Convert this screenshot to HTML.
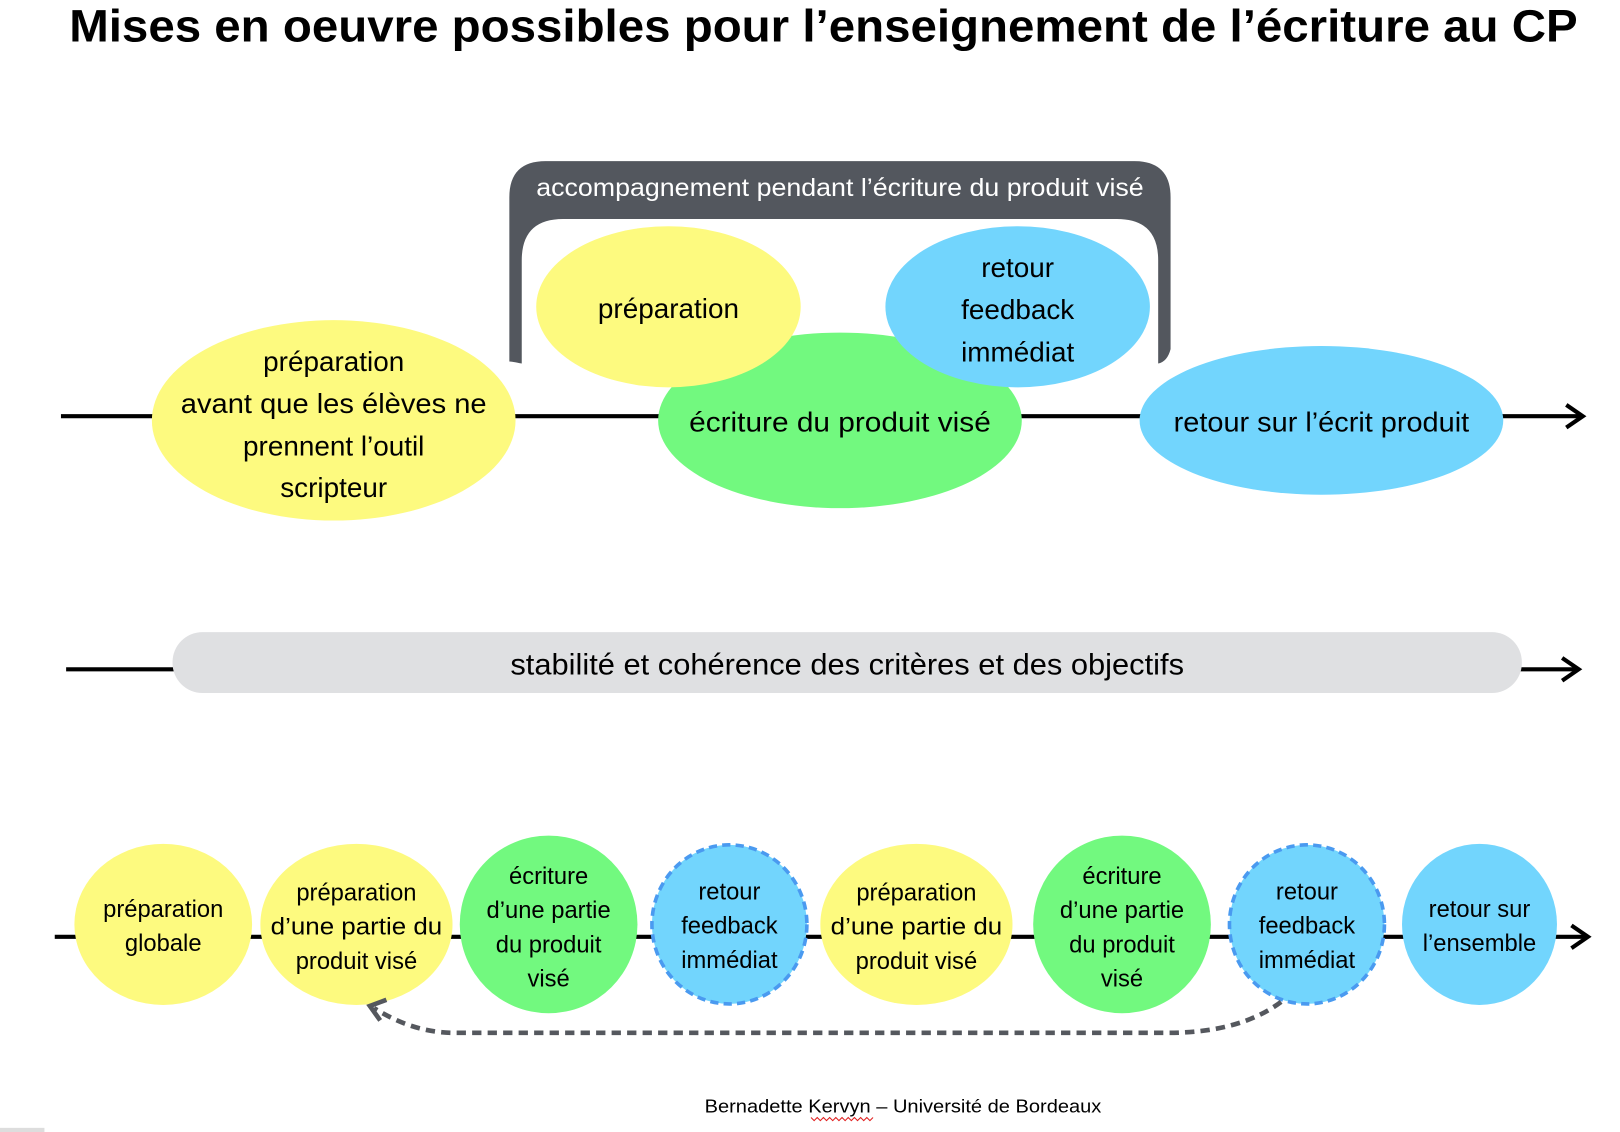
<!DOCTYPE html>
<html><head><meta charset="utf-8"><style>
html,body{margin:0;padding:0;background:#fff;}
svg{display:block;}
text{font-family:"Liberation Sans","DejaVu Sans",sans-serif;}
</style></head><body>
<svg width="1620" height="1132" viewBox="0 0 1568 1096" preserveAspectRatio="none" xmlns="http://www.w3.org/2000/svg">
<text x="797" y="40" text-anchor="middle" font-size="44" font-weight="bold" textLength="1460" lengthAdjust="spacingAndGlyphs" fill="#000">Mises en oeuvre possibles pour l’enseignement de l’écriture au CP</text>

<line x1="59" y1="403" x2="1530" y2="403" stroke="#000" stroke-width="4"/>
<polyline points="1516,392 1532,403 1516,414" fill="none" stroke="#000" stroke-width="4"/>
<path d="M493,350 L493,191 Q493,156 528,156 L1098,156 Q1133,156 1133,191 L1133,338 Q1130,350 1121,352 L1121,252 Q1121,212 1081,212 L545,212 Q505,212 505,252 L505,352 Q495,350 493,350 Z" fill="#53575E"/>
<text x="813" y="190" text-anchor="middle" font-size="24" fill="#fff" textLength="588" lengthAdjust="spacingAndGlyphs">accompagnement pendant l’écriture du produit visé</text>

<ellipse cx="323" cy="407" rx="176" ry="97" fill="#FDFA7F"/>
<ellipse cx="813" cy="407" rx="176" ry="85" fill="#72F97F"/>
<ellipse cx="647" cy="297" rx="128" ry="78" fill="#FDFA7F"/>
<ellipse cx="985" cy="297" rx="128" ry="78" fill="#72D5FD"/>
<ellipse cx="1279" cy="407" rx="176" ry="72" fill="#72D5FD"/>

<g font-size="27" fill="#000" text-anchor="middle">
<text x="323" y="359">préparation</text>
<text x="323" y="400" textLength="296" lengthAdjust="spacingAndGlyphs">avant que les élèves ne</text>
<text x="323" y="441">prennent l’outil</text>
<text x="323" y="481">scripteur</text>
<text x="647" y="308">préparation</text>
<text x="985" y="268">retour</text>
<text x="985" y="309">feedback</text>
<text x="985" y="350">immédiat</text>
<text x="813" y="418" textLength="292" lengthAdjust="spacingAndGlyphs">écriture du produit visé</text>
<text x="1279" y="418" textLength="286" lengthAdjust="spacingAndGlyphs">retour sur l’écrit produit</text>
</g>

<line x1="64" y1="648" x2="1526" y2="648" stroke="#000" stroke-width="4"/>
<polyline points="1512,637 1528,648 1512,659" fill="none" stroke="#000" stroke-width="4"/>
<rect x="167" y="612" width="1306" height="59" rx="29" fill="#DFE0E2"/>
<text x="820" y="653" text-anchor="middle" font-size="29" fill="#000" textLength="652" lengthAdjust="spacingAndGlyphs">stabilité et cohérence des critères et des objectifs</text>

<line x1="53" y1="907" x2="1535" y2="907" stroke="#000" stroke-width="4"/>
<polyline points="1521,896 1537,907 1521,918" fill="none" stroke="#000" stroke-width="4"/>
<ellipse cx="158" cy="895" rx="86" ry="78" fill="#FDFA7F"/>
<ellipse cx="345" cy="895" rx="93" ry="78" fill="#FDFA7F"/>
<ellipse cx="531" cy="895" rx="86" ry="86" fill="#72F97F"/>
<ellipse cx="706" cy="895" rx="75" ry="77" fill="#72D5FD" stroke="#4A9AF0" stroke-width="3.5" stroke-dasharray="8,5"/>
<ellipse cx="887" cy="895" rx="93" ry="78" fill="#FDFA7F"/>
<ellipse cx="1086" cy="895" rx="86" ry="86" fill="#72F97F"/>
<ellipse cx="1265" cy="895" rx="75" ry="77" fill="#72D5FD" stroke="#4A9AF0" stroke-width="3.5" stroke-dasharray="8,5"/>
<ellipse cx="1432" cy="895" rx="75" ry="78" fill="#72D5FD"/>

<g font-size="23" fill="#000" text-anchor="middle">
<text x="158" y="888">préparation</text>
<text x="158" y="921">globale</text>
<text x="345" y="872">préparation</text>
<text x="345" y="905" textLength="166" lengthAdjust="spacingAndGlyphs">d’une partie du</text>
<text x="345" y="938">produit visé</text>
<text x="531" y="856">écriture</text>
<text x="531" y="889">d’une partie</text>
<text x="531" y="922">du produit</text>
<text x="531" y="955">visé</text>
<text x="706" y="871">retour</text>
<text x="706" y="904">feedback</text>
<text x="706" y="937">immédiat</text>
<text x="887" y="872">préparation</text>
<text x="887" y="905" textLength="166" lengthAdjust="spacingAndGlyphs">d’une partie du</text>
<text x="887" y="938">produit visé</text>
<text x="1086" y="856">écriture</text>
<text x="1086" y="889">d’une partie</text>
<text x="1086" y="922">du produit</text>
<text x="1086" y="955">visé</text>
<text x="1265" y="871">retour</text>
<text x="1265" y="904">feedback</text>
<text x="1265" y="937">immédiat</text>
<text x="1432" y="888">retour sur</text>
<text x="1432" y="921">l’ensemble</text>
</g>

<path d="M1240,970 Q1200,1000 1130,1000 L440,1000 Q400,1000 362,976" fill="none" stroke="#55585E" stroke-width="4.5" stroke-dasharray="9,6"/>
<polyline points="374,968 358,974 368,988" fill="none" stroke="#55585E" stroke-width="4.5"/>

<text x="874" y="1077" text-anchor="middle" font-size="18" fill="#000" textLength="384" lengthAdjust="spacingAndGlyphs">Bernadette Kervyn – Université de Bordeaux</text>
<path d="M785,1082 l3,3 l3,-3 l3,3 l3,-3 l3,3 l3,-3 l3,3 l3,-3 l3,3 l3,-3 l3,3 l3,-3 l3,3 l3,-3 l3,3 l3,-3 l3,3 l3,-3 l3,3 l3,-3" fill="none" stroke="#e02020" stroke-width="1"/>
<rect x="0" y="1092" width="43" height="4" fill="#DDDDDD"/>
</svg>
</body></html>
